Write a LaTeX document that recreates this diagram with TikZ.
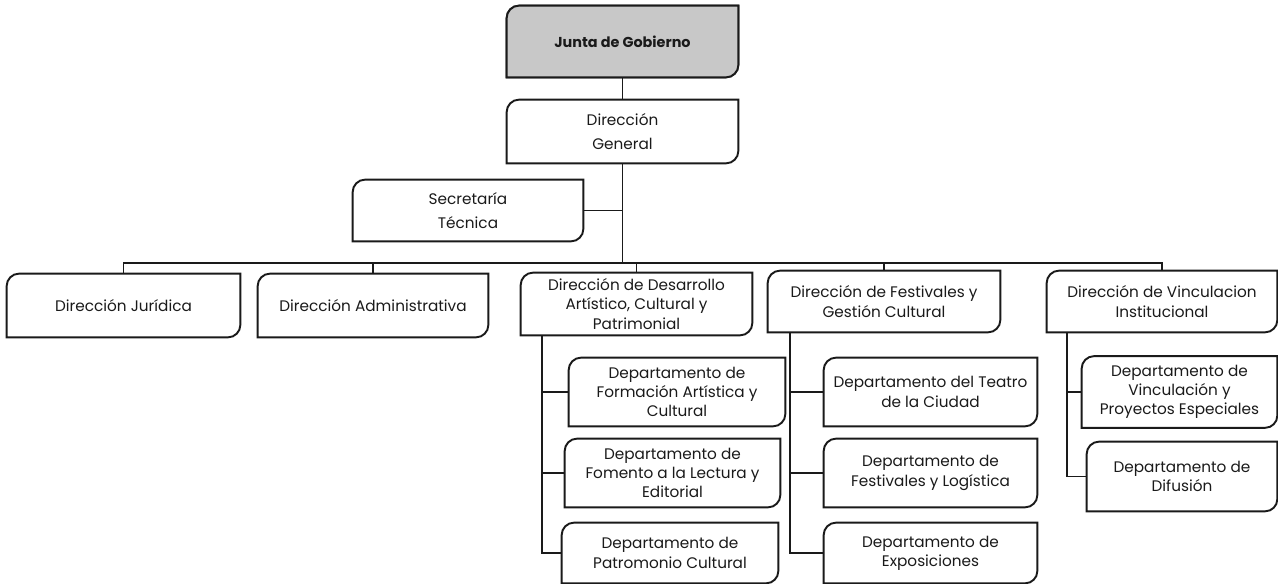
\documentclass[tikz,border=0pt]{standalone}
\usepackage{fontspec}
\setmainfont{Poppins}
\usepackage{tikz}
\usetikzlibrary{backgrounds}
\definecolor{lineBlack}{HTML}{1A1A1A}
\definecolor{juntaGray}{HTML}{C8C8C8}

\begin{document}
\begin{tikzpicture}[
  x=0.02cm,y=-0.02cm,
  box/.style={align=center,inner sep=0pt,font=\fontsize{8.7}{11}\selectfont,text=lineBlack},
  edge/.style={draw=lineBlack,line width=1pt},
  outline/.style={draw=lineBlack,line width=1.1pt,fill=white}
]
\useasboundingbox (0,0) rectangle (1278,584);
% top of the chart
\node[box,minimum width=4.62cm,minimum height=1.42cm,font=\fontsize{8.2}{11}\selectfont\bfseries] (junta) at (622.5,41.5) {Junta de Gobierno};
\node[box,minimum width=4.62cm,minimum height=1.26cm] (dg) at (622.5,131.5) {Dirección\\[3pt]General};
\node[box,minimum width=4.6cm,minimum height=1.22cm] (sec) at (468,210.5) {Secretaría\\[3pt]Técnica};
% directions
\node[box,minimum width=4.66cm,minimum height=1.26cm] (jur) at (123.5,305.5) {Dirección Jurídica};
\node[box,minimum width=4.6cm,minimum height=1.26cm] (adm) at (373,305.5) {Dirección Administrativa};
\node[box,minimum width=4.62cm,minimum height=1.24cm] (des) at (636.5,304) {Dirección de Desarrollo\\Artístico, Cultural y\\Patrimonial};
\node[box,minimum width=4.64cm,minimum height=1.22cm] (fes) at (884,301.5) {Dirección de Festivales y\\Gestión Cultural};
\node[box,minimum width=4.6cm,minimum height=1.22cm] (vin) at (1162,301.5) {Dirección de Vinculacion\\Institucional};
% departments
\node[box,minimum width=4.32cm,minimum height=1.36cm] (form) at (677,392) {Departamento de\\Formación Artística y\\Cultural};
\node[box,minimum width=4.3cm,minimum height=1.36cm] (fom) at (672.5,473) {Departamento de\\Fomento a la Lectura y\\Editorial};
\node[box,minimum width=4.32cm,minimum height=1.2cm] (pat) at (670,553) {Departamento de\\Patromonio Cultural};
\node[box,minimum width=4.26cm,minimum height=1.36cm] (tea) at (930.5,392) {Departamento del Teatro\\de la Ciudad};
\node[box,minimum width=4.26cm,minimum height=1.36cm] (log) at (930.5,473) {Departamento de\\Festivales y Logística};
\node[box,minimum width=4.26cm,minimum height=1.2cm] (exp) at (930.5,553) {Departamento de\\Exposiciones};
\node[box,minimum width=3.9cm,minimum height=1.42cm] (pro) at (1179.5,392) {Departamento de\\Vinculación y\\Proyectos Especiales};
\node[box,minimum width=3.8cm,minimum height=1.38cm] (dif) at (1182,476.5) {Departamento de\\Difusión};

% box outlines, two corners rounded
\begin{scope}[on background layer]
\foreach \n in {junta,dg,sec,jur,adm,des,fes,vin,form,fom,pat,tea,log,exp,pro,dif}
  \path[outline] (\n.west) [rounded corners=7pt] |- (\n.north) [sharp corners] -| (\n.east)
    [rounded corners=7pt] |- (\n.south) [sharp corners] -| (\n.west) -- cycle;
\path[outline,fill=juntaGray] (junta.west) [rounded corners=7pt] |- (junta.north) [sharp corners] -| (junta.east)
    [rounded corners=7pt] |- (junta.south) [sharp corners] -| (junta.west) -- cycle;
\end{scope}

% connectors
\coordinate (bus) at (622.5,263);
\coordinate (desline) at (542,0);
\coordinate (fesline) at (790,0);
\coordinate (vinline) at (1067,0);
\draw[edge] (junta) -- (dg);
\draw[edge] (dg) -- (bus);
\draw[edge] (sec.east) -- (sec.east -| bus);
\draw[edge] (jur) |- (bus) -| (vin);
\foreach \n in {adm,des,fes}
  \draw[edge] (\n) -- (\n |- bus);
\draw[edge] (des.south -| desline) |- (pat.west);
\foreach \n in {form,fom}
  \draw[edge] (\n.west) -- (\n.west -| desline);
\draw[edge] (fes.south -| fesline) |- (exp.west);
\foreach \n in {tea,log}
  \draw[edge] (\n.west) -- (\n.west -| fesline);
\draw[edge] (vin.south -| vinline) |- (dif.west);
\draw[edge] (pro.west) -- (pro.west -| vinline);
\end{tikzpicture}
\end{document}
